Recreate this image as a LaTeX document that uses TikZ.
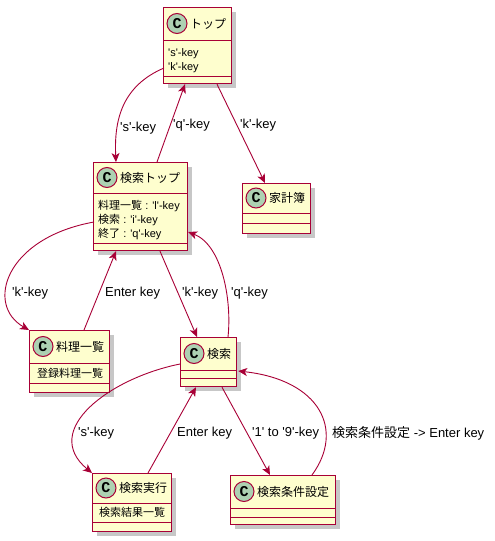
\documentclass[tikz,border=0pt]{standalone}
\usepackage{fontspec}
\setmainfont{Liberation Sans}[Ligatures=TeXOff]
\newfontfamily\jp{Noto Sans CJK JP}
\newfontfamily\badgefont{Liberation Mono}
\usetikzlibrary{arrows.meta,shadows,calc}
\definecolor{umlred}{HTML}{A80036}
\definecolor{umlfill}{HTML}{FEFECE}
\definecolor{umlgreen}{HTML}{ADD1B2}
\tikzset{
  classbox/.style={draw=umlred, fill=umlfill, line width=1.2pt, rectangle, inner sep=0pt,
    anchor=north west,
    drop shadow={shadow xshift=4pt, shadow yshift=-4pt, fill=black, opacity=0.22}},
  sep/.style={draw=umlred, line width=1pt},
  badge/.style={circle, draw=umlred, fill=umlgreen, line width=1pt, minimum size=20pt,
    inner sep=0pt, font=\badgefont\bfseries\fontsize{15}{15}\selectfont},
  cname/.style={anchor=west, inner sep=0pt, font=\jp\fontsize{12}{14}\selectfont},
  attr/.style={anchor=base west, inner sep=0pt, font=\fontsize{11}{14}\selectfont},
  edge/.style={draw=umlred, line width=0.9pt, -{Stealth[length=9pt,width=8pt,inset=2.5pt]}},
  elabel/.style={anchor=west, inner sep=0pt, font=\fontsize{13}{15}\selectfont},
}
\begin{document}
\begin{tikzpicture}[x=1pt,y=-1pt]
\useasboundingbox (0,0) rectangle (495,541);

% --- classes ---
% トップ
\node[classbox, minimum width=68pt, minimum height=76pt] (top) at (163,7) {};
\draw[sep] ([yshift=-33pt]top.north west) -- ([yshift=-33pt]top.north east);
\draw[sep] ([yshift=-69pt]top.north west) -- ([yshift=-69pt]top.north east);
\node[badge] (top-c) at ([xshift=14pt,yshift=-16.5pt]top.north west) {C};
\node[cname] (top-n) at ([xshift=27pt,yshift=-16.5pt]top.north west) {トップ};
\node[attr] (top-a1) at ([xshift=5pt,yshift=-49pt]top.north west) {'s'-key};
\node[attr] (top-a2) at ([xshift=5pt,yshift=-63pt]top.north west) {'k'-key};

% 検索トップ
\node[classbox, minimum width=94pt, minimum height=88pt] (stop) at (93,162) {};
\draw[sep] ([yshift=-31pt]stop.north west) -- ([yshift=-31pt]stop.north east);
\draw[sep] ([yshift=-81pt]stop.north west) -- ([yshift=-81pt]stop.north east);
\node[badge] (stop-c) at ([xshift=14pt,yshift=-15.5pt]stop.north west) {C};
\node[cname] (stop-n) at ([xshift=27pt,yshift=-15.5pt]stop.north west) {検索トップ};
\node[attr] (stop-a1) at ([xshift=5pt,yshift=-47pt]stop.north west) {{\jp 料理一覧} : 'l'-key};
\node[attr] (stop-a2) at ([xshift=5pt,yshift=-61pt]stop.north west) {{\jp 検索} : 'i'-key};
\node[attr] (stop-a3) at ([xshift=5pt,yshift=-75pt]stop.north west) {{\jp 終了} : 'q'-key};

% 家計簿
\node[classbox, minimum width=68pt, minimum height=50pt] (kakei) at (242,183) {};
\draw[sep] ([yshift=-30pt]kakei.north west) -- ([yshift=-30pt]kakei.north east);
\draw[sep] ([yshift=-40pt]kakei.north west) -- ([yshift=-40pt]kakei.north east);
\node[badge] (kakei-c) at ([xshift=14pt,yshift=-15pt]kakei.north west) {C};
\node[cname] (kakei-n) at ([xshift=27pt,yshift=-15pt]kakei.north west) {家計簿};

% 料理一覧
\node[classbox, minimum width=80pt, minimum height=62pt] (ryouri) at (29,330) {};
\draw[sep] ([yshift=-33pt]ryouri.north west) -- ([yshift=-33pt]ryouri.north east);
\draw[sep] ([yshift=-53pt]ryouri.north west) -- ([yshift=-53pt]ryouri.north east);
\node[badge] (ryouri-c) at ([xshift=14pt,yshift=-16.5pt]ryouri.north west) {C};
\node[cname] (ryouri-n) at ([xshift=27pt,yshift=-16.5pt]ryouri.north west) {料理一覧};
\node[attr] (ryouri-a1) at ([xshift=8pt,yshift=-47pt]ryouri.north west) {{\jp 登録料理一覧}};

% 検索
\node[classbox, minimum width=56pt, minimum height=49pt] (ken) at (180,337) {};
\draw[sep] ([yshift=-33pt]ken.north west) -- ([yshift=-33pt]ken.north east);
\draw[sep] ([yshift=-41pt]ken.north west) -- ([yshift=-41pt]ken.north east);
\node[badge] (ken-c) at ([xshift=14pt,yshift=-16.5pt]ken.north west) {C};
\node[cname] (ken-n) at ([xshift=27pt,yshift=-16.5pt]ken.north west) {検索};

% 検索実行
\node[classbox, minimum width=79pt, minimum height=58pt] (jikkou) at (92,473) {};
\draw[sep] ([yshift=-30pt]jikkou.north west) -- ([yshift=-30pt]jikkou.north east);
\draw[sep] ([yshift=-49pt]jikkou.north west) -- ([yshift=-49pt]jikkou.north east);
\node[badge] (jikkou-c) at ([xshift=14pt,yshift=-15pt]jikkou.north west) {C};
\node[cname] (jikkou-n) at ([xshift=27pt,yshift=-15pt]jikkou.north west) {検索実行};
\node[attr] (jikkou-a1) at ([xshift=7pt,yshift=-43pt]jikkou.north west) {{\jp 検索結果一覧}};

% 検索条件設定
\node[classbox, minimum width=105pt, minimum height=49pt] (jouken) at (230,475) {};
\draw[sep] ([yshift=-33pt]jouken.north west) -- ([yshift=-33pt]jouken.north east);
\draw[sep] ([yshift=-42pt]jouken.north west) -- ([yshift=-42pt]jouken.north east);
\node[badge] (jouken-c) at ([xshift=14pt,yshift=-16.5pt]jouken.north west) {C};
\node[cname] (jouken-n) at ([xshift=27pt,yshift=-16.5pt]jouken.north west) {検索条件設定};

% --- transitions ---
\draw[edge] ($(top.north west)+(1,61)$) .. controls (122,86) and (114,120) .. ($(stop.north west)+(23,0)$);
\draw[edge] ($(stop.north west)+(64,0)$) -- ($(top.south west)+(22,0)$);
\draw[edge] ($(top.south west)+(54,0)$) -- ($(kakei.north west)+(23,0)$);
\draw[edge] ($(stop.north west)+(1,60)$) .. controls (5,238) and (-15,305) .. (ryouri.north west);
\draw[edge] ($(ryouri.north west)+(55,0)$) -- ($(stop.south west)+(23,0)$);
\draw[edge] ($(stop.south west)+(67,0)$) -- ($(ken.north west)+(17,0)$);
\draw[edge] ($(ken.north west)+(48,0)$) .. controls (232,300) and (222,245) .. ($(stop.north east)+(0,70)$);
\draw[edge] ($(ken.north west)+(0,27)$) .. controls (110,378) and (40,430) .. (jikkou.north west);
\draw[edge] ($(jikkou.north west)+(56,0)$) -- ($(ken.south west)+(16,0)$);
\draw[edge] ($(ken.south west)+(42,0)$) -- ($(jouken.north west)+(40,0)$);
\draw[edge] ($(jouken.north west)+(82,0)$) .. controls (345,430) and (320,380) .. ($(ken.north east)+(1,34)$);

% --- labels ---
\node[elabel] (l1) at (120,128) {'s'-key};
\node[elabel] (l2) at (173,125) {'q'-key};
\node[elabel] (l3) at (240,125) {'k'-key};
\node[elabel] (l4) at (12,293) {'k'-key};
\node[elabel] (l5) at (105,293) {Enter key};
\node[elabel] (l6) at (182,293) {'k'-key};
\node[elabel] (l7) at (231,293) {'q'-key};
\node[elabel] (l8) at (78,433) {'s'-key};
\node[elabel] (l9) at (177,433) {Enter key};
\node[elabel] (l10) at (252,433) {'1' to '9'-key};
\node[elabel] (l11) at (332,433) {{\jp 検索条件設定} -> Enter key};
\end{tikzpicture}
\end{document}
